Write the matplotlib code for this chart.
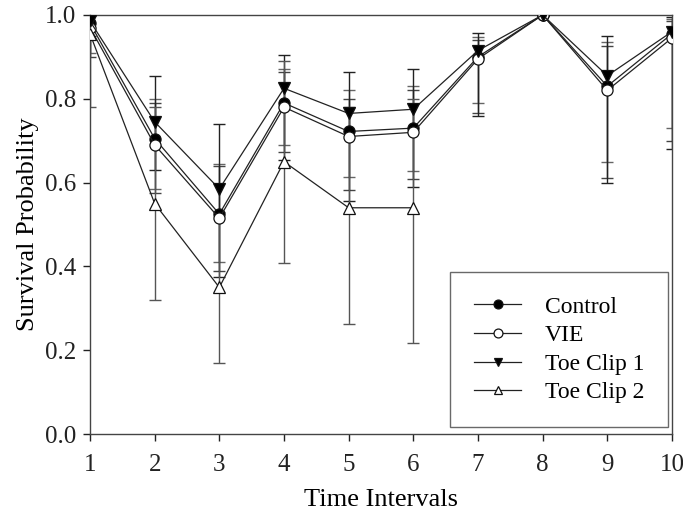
"""
Survival probability per time interval for the four marking treatments,
with confidence bounds drawn as error bars.
"""

import numpy as np
import matplotlib
matplotlib.use("Agg")
import matplotlib.pyplot as plt

plt.rcParams['font.family'] = ['Liberation Serif', 'DejaVu Serif']

# Data
intervals = [1, 2, 3, 4, 5, 6, 7, 8, 9, 10]
intervals_tc2 = [1, 2, 3, 4, 5, 6]

control = [0.98, 0.705, 0.525, 0.79, 0.722, 0.73, 0.90, 1.0, 0.83, 0.955]
control_lo = [0.91, 0.585, 0.41, 0.69, 0.613, 0.628, 0.79, 1.0, 0.65, 0.73]
control_hi = [1.0, 0.80, 0.645, 0.87, 0.82, 0.83, 0.947, 1.0, 0.935, 0.99]

vie = [0.97, 0.69, 0.515, 0.78, 0.71, 0.72, 0.895, 1.0, 0.82, 0.945]
vie_lo = [0.90, 0.575, 0.39, 0.673, 0.582, 0.609, 0.765, 1.0, 0.61, 0.70]
vie_hi = [1.0, 0.79, 0.64, 0.865, 0.80, 0.82, 0.94, 1.0, 0.925, 0.985]

toe_clip_1 = [0.985, 0.745, 0.585, 0.825, 0.765, 0.775, 0.915, 1.0, 0.855, 0.96]
toe_clip_1_lo = [0.95, 0.63, 0.375, 0.654, 0.557, 0.59, 0.76, 1.0, 0.60, 0.68]
toe_clip_1_hi = [1.0, 0.855, 0.74, 0.905, 0.865, 0.87, 0.958, 1.0, 0.95, 0.995]

toe_clip_2 = [0.955, 0.55, 0.35, 0.65, 0.54, 0.54]
toe_clip_2_lo = [0.78, 0.32, 0.17, 0.408, 0.262, 0.217]
toe_clip_2_hi = [1.0, 0.78, 0.53, 0.89, 0.78, 0.80]


def draw_series(ax, x, y, lo, hi, marker, face, label, ecolor):
    y = np.array(y)
    yerr = [y - np.array(lo), np.array(hi) - y]
    ax.errorbar(x, y, yerr=yerr, fmt='none', ecolor=ecolor, elinewidth=1.0,
                capsize=4.5, capthick=1.0, zorder=2)
    ax.plot(x, y, color='#222222', linewidth=0.9, marker=marker,
            markersize=8, markerfacecolor=face, markeredgecolor='#111111',
            markeredgewidth=0.9, label=label, zorder=3)


fig = plt.figure(figsize=(6.83, 5.15), dpi=100)
ax = fig.add_axes([0.1318, 0.157, 0.852, 0.814])

draw_series(ax, intervals, control, control_lo, control_hi, 'o', 'black', 'Control', '#666666')
draw_series(ax, intervals, vie, vie_lo, vie_hi, 'o', 'white', 'VIE', '#444444')
draw_series(ax, intervals, toe_clip_1, toe_clip_1_lo, toe_clip_1_hi, 'v', 'black', 'Toe Clip 1', '#222222')
draw_series(ax, intervals_tc2, toe_clip_2, toe_clip_2_lo, toe_clip_2_hi, '^', 'white', 'Toe Clip 2', '#555555')

ax.set_xlim(1, 10)
ax.set_ylim(0.0, 1.0)
ax.set_xticks(intervals)
ax.set_yticks([0.0, 0.2, 0.4, 0.6, 0.8, 1.0])
ax.set_yticklabels(['0.0', '0.2', '0.4', '0.6', '0.8', '1.0'])
ax.tick_params(direction='out', length=5, width=1, labelsize=18, colors='#222222', pad=5)
ax.tick_params(axis='x', pad=9)
for spine in ax.spines.values():
    spine.set_color('#444444')
    spine.set_linewidth(1.0)

ax.set_xlabel('Time Intervals', fontsize=19, labelpad=10)
ax.set_ylabel('Survival Probability', fontsize=19, labelpad=4)

leg = ax.legend(loc='lower right', bbox_to_anchor=(0.993, 0.017), borderaxespad=0,
                fontsize=17, frameon=True, fancybox=False, edgecolor='#444444',
                handlelength=2.0, handletextpad=1.0, labelspacing=0.3,
                borderpad=1.0, markerscale=0.8)
leg.get_frame().set_linewidth(1.0)

fig.savefig('out.png', dpi=100)
